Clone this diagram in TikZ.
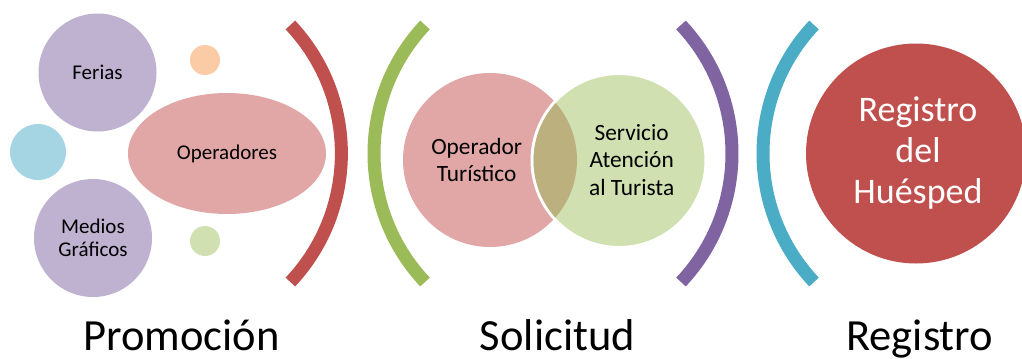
\documentclass[tikz,border=0pt]{standalone}
\usepackage{fontspec}
\setmainfont{Carlito}
\usetikzlibrary{shapes.geometric}
\definecolor{lav}{HTML}{BFB1D0}
\definecolor{aqua}{HTML}{A5D5E2}
\definecolor{peach}{HTML}{FBCBA5}
\definecolor{lgreen}{HTML}{D0E0B0}
\definecolor{rose}{HTML}{E0A7A6}
\definecolor{tan}{HTML}{BDB07F}
\definecolor{redacc}{HTML}{C0504D}
\definecolor{greenacc}{HTML}{9BBB59}
\definecolor{purpacc}{HTML}{8064A2}
\definecolor{cyanacc}{HTML}{4BACC6}
\begin{document}
\begin{tikzpicture}[x=0.75pt,y=-0.75pt,
  bubble/.style={circle, inner sep=0pt, draw=none},
  arcline/.style={line width=9.75pt},
  smalltxt/.style={font=\fontsize{15.75}{17}\selectfont, align=center},
  midtxt/.style={font=\fontsize{17.5}{20.5}\selectfont, align=center},
  bigtxt/.style={font=\fontsize{27}{30.75}\selectfont, align=center, text=white},
  titletxt/.style={font=\fontsize{33.4}{40}\selectfont, anchor=base, inner sep=0pt, text depth=0pt}]
\clip (0,0) rectangle (1022,358);
% Promocion group
\node[bubble, fill=lav, minimum size=88.5pt] (ferias) at (97.5,72.5) {};
\node[bubble, fill=lav, minimum size=88.5pt] (medios) at (93,238) {};
\node[bubble, fill=aqua, minimum size=42pt] (blue) at (38,152) {};
\node[bubble, fill=peach, minimum size=22.5pt] (orange) at (205,60) {};
\node[bubble, fill=lgreen, minimum size=22.5pt] (greensm) at (205,241) {};
\node[ellipse, inner sep=0pt, fill=rose, minimum width=148.5pt, minimum height=90.75pt] (oper) at (227,153.5) {};
\node[smalltxt] (feriasT) at (ferias) {Ferias};
\node[smalltxt] (mediosT) at (medios) {Medios\\Gráficos};
\node[smalltxt] (operT) at (oper) {Operadores};
% arcs
\draw[arcline, redacc] (154,153.5) ++(-43.3:187.4) arc[start angle=-43.3, end angle=43.3, radius=187.4];
\draw[arcline, greenacc] (561.4,153.5) ++(136.7:187.4) arc[start angle=136.7, end angle=223.3, radius=187.4];
\draw[arcline, purpacc] (544.6,153.5) ++(-43.3:187.4) arc[start angle=-43.3, end angle=43.3, radius=187.4];
\draw[arcline, cyanacc] (950.4,153.5) ++(136.7:187.4) arc[start angle=136.7, end angle=223.3, radius=187.4];
% Solicitud group
\node[bubble, fill=rose, minimum size=130.5pt] (optur) at (490,160) {};
\node[bubble, fill=lgreen, draw=white, line width=2.25pt, minimum size=130.5pt] (serv) at (619,160.5) {};
\begin{scope}
  \clip (490,160) circle[radius=87];
  \fill[tan] (619,160.5) circle[radius=85.5];
\end{scope}
\node[midtxt] (opturT) at (476.7,160) {Operador\\Turístico};
\node[midtxt] (servT) at (631.7,160) {Servicio\\Atención\\al Turista};
% Registro group
\node[bubble, fill=redacc, minimum size=165pt] (reg) at (916,153.5) {};
\node[bigtxt] (regT) at (918,153) {Registro\\del\\Huésped};
% titles
\node[titletxt] (t1) at (181.5,350) {Promoción};
\node[titletxt] (t2) at (557.5,350) {Solicitud};
\node[titletxt] (t3) at (919.7,350) {Registro};
\end{tikzpicture}
\end{document}
